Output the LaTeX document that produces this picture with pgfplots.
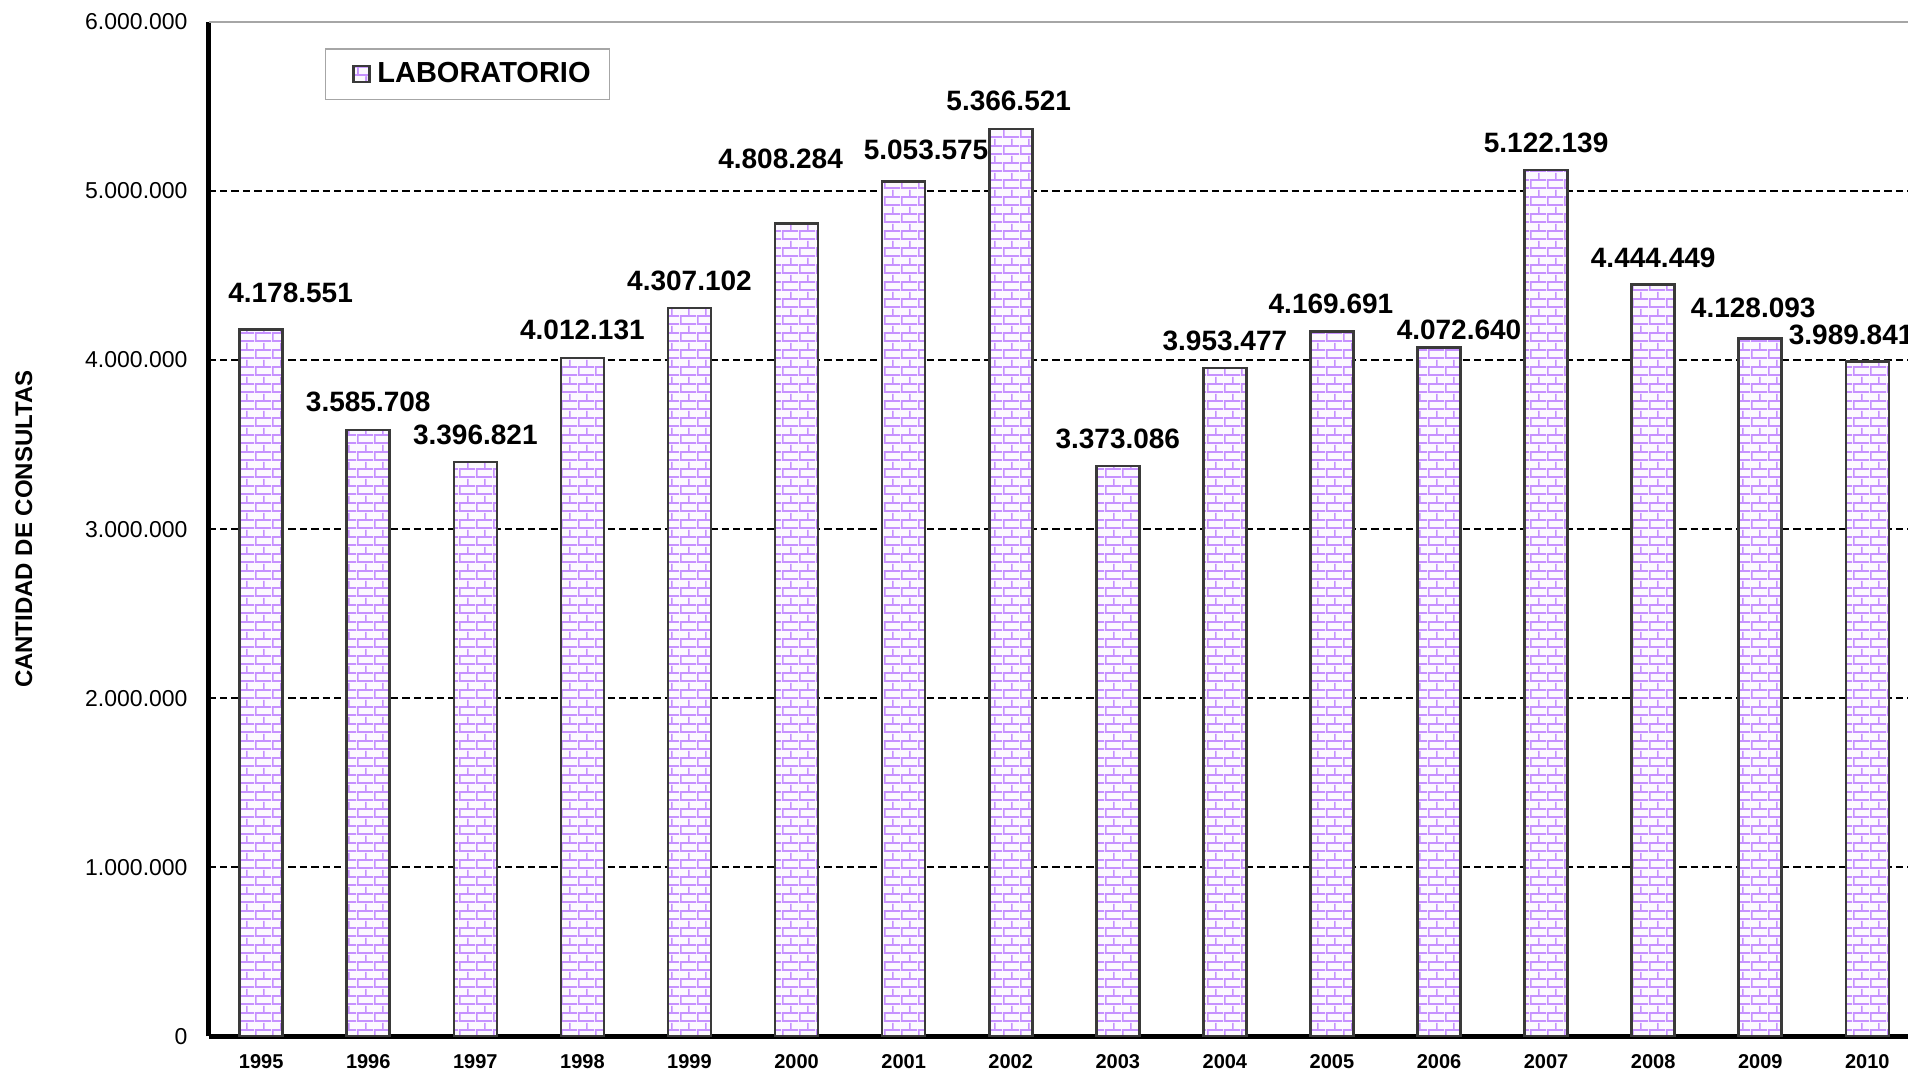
\documentclass[border=0pt]{standalone}
\usepackage{pgfplots}
\pgfplotsset{compat=1.18}
\usepackage{pgfplotstable}
\usepackage{fontspec}
\setmainfont{Liberation Sans}
\usetikzlibrary{patterns}
\definecolor{mortar}{RGB}{198,145,255}
\definecolor{brickbg}{RGB}{252,249,255}
\definecolor{barline}{RGB}{58,58,58}
\pgfdeclarepatternformonly{labbricks}{\pgfqpoint{0pt}{0pt}}{\pgfqpoint{8.5pt}{8.3pt}}{\pgfqpoint{8.5pt}{8.3pt}}{
 \pgfsetlinewidth{0.9pt}
 \pgfpathmoveto{\pgfqpoint{0pt}{0.45pt}}\pgfpathlineto{\pgfqpoint{8.5pt}{0.45pt}}
 \pgfpathmoveto{\pgfqpoint{0pt}{4.6pt}}\pgfpathlineto{\pgfqpoint{8.5pt}{4.6pt}}
 \pgfpathmoveto{\pgfqpoint{0.45pt}{0.45pt}}\pgfpathlineto{\pgfqpoint{0.45pt}{4.6pt}}
 \pgfpathmoveto{\pgfqpoint{4.7pt}{4.6pt}}\pgfpathlineto{\pgfqpoint{4.7pt}{8.3pt}}
 \pgfpathmoveto{\pgfqpoint{4.7pt}{0pt}}\pgfpathlineto{\pgfqpoint{4.7pt}{0.45pt}}
 \pgfusepath{stroke}
}
\pgfplotstableread{
x y label dx dy
0 4178551 4.178.551 14.7 18.5
1 3585708 3.585.708 0 14
2 3396821 3.396.821 0 13.6
3 4012131 4.012.131 0 14
4 4307102 4.307.102 0 13.7
5 4808284 4.808.284 -8 32
6 5053575 5.053.575 11.2 15.9
7 5366521 5.366.521 -1 13.8
8 3373086 3.373.086 0 13.7
9 3953477 3.953.477 0 13.3
10 4169691 4.169.691 -0.5 13.8
11 4072640 4.072.640 10 9
12 5122139 5.122.139 0 13.5
13 4444449 4.444.449 0 13.7
14 4128093 4.128.093 -3.5 15.4
15 3989841 3.989.841 -8.1 13.3
}\labdata
\begin{document}
\begin{tikzpicture}
\begin{axis}[
 scale only axis, width=872.2pt, height=507.4pt,
 at={(104.3pt,17.75pt)}, anchor=south west,
 xmin=-0.491, xmax=15.8, ymin=0, ymax=6000000,
 axis x line*=bottom, axis y line*=left,
 axis line style={-, line width=2.2pt, black},
 ybar, bar width=21.5pt,
 xtick={0,...,15},
 xticklabels={1995,1996,1997,1998,1999,2000,2001,2002,2003,2004,2005,2006,2007,2008,2009,2010},
 ytick={0,1000000,2000000,3000000,4000000,5000000},
 yticklabels={0,1.000.000,2.000.000,3.000.000,4.000.000,5.000.000},
 extra y ticks={6000000}, extra y tick labels={6.000.000},
 extra y tick style={ymajorgrids=true, major grid style={solid, draw=gray!70, line width=0.8pt}},
 ymajorgrids,
 major grid style={black, line width=0.9pt, dash pattern=on 3.7pt off 2pt},
 major tick length=0pt,
 tick style={draw=none},
 xticklabel style={font=\bfseries\fontsize{10}{10}\selectfont, yshift=-5.3pt},
 yticklabel style={font=\fontsize{11.5}{11.5}\selectfont, xshift=-7pt},
 ylabel={CANTIDAD DE CONSULTAS},
 ylabel style={at={(axis description cs:-0.10594,0.5)}, anchor=center, rotate=0, font=\bfseries\fontsize{12}{12}\selectfont},
 legend style={at={(axis description cs:0.06673,0.97379)}, anchor=north west,
   draw=gray!70, line width=0.6pt, inner xsep=9.3pt, inner ysep=6.9pt,
   font=\bfseries\fontsize{14.5}{14.5}\selectfont, nodes={inner sep=0pt}, column sep=3.3pt},
 legend image code/.code={
   \path (0pt,0pt) (12pt,0pt);
   \draw[draw=barline, line width=1.1pt, fill=brickbg, postaction={pattern=labbricks, pattern color=mortar}] (4pt,-4pt) rectangle (12pt,4pt);},
]
\addplot[ybar, draw=barline, line width=1.3pt, fill=brickbg,
 postaction={pattern=labbricks, pattern color=mortar},
 point meta=explicit symbolic,
 visualization depends on={\thisrow{dx}\as\labdx},
 visualization depends on={\thisrow{dy}\as\labdy},
 nodes near coords,
 nodes near coords style={anchor=center, xshift=\labdx pt, yshift=\labdy pt,
   font=\bfseries\fontsize{14}{14}\selectfont, text=black, draw=none, fill=none},
] table[x=x, y=y, meta=label] \labdata;
\addlegendentry{LABORATORIO}
\end{axis}
\pgfresetboundingbox
\useasboundingbox (0,0) rectangle (954pt,536pt);
\end{tikzpicture}
\end{document}
